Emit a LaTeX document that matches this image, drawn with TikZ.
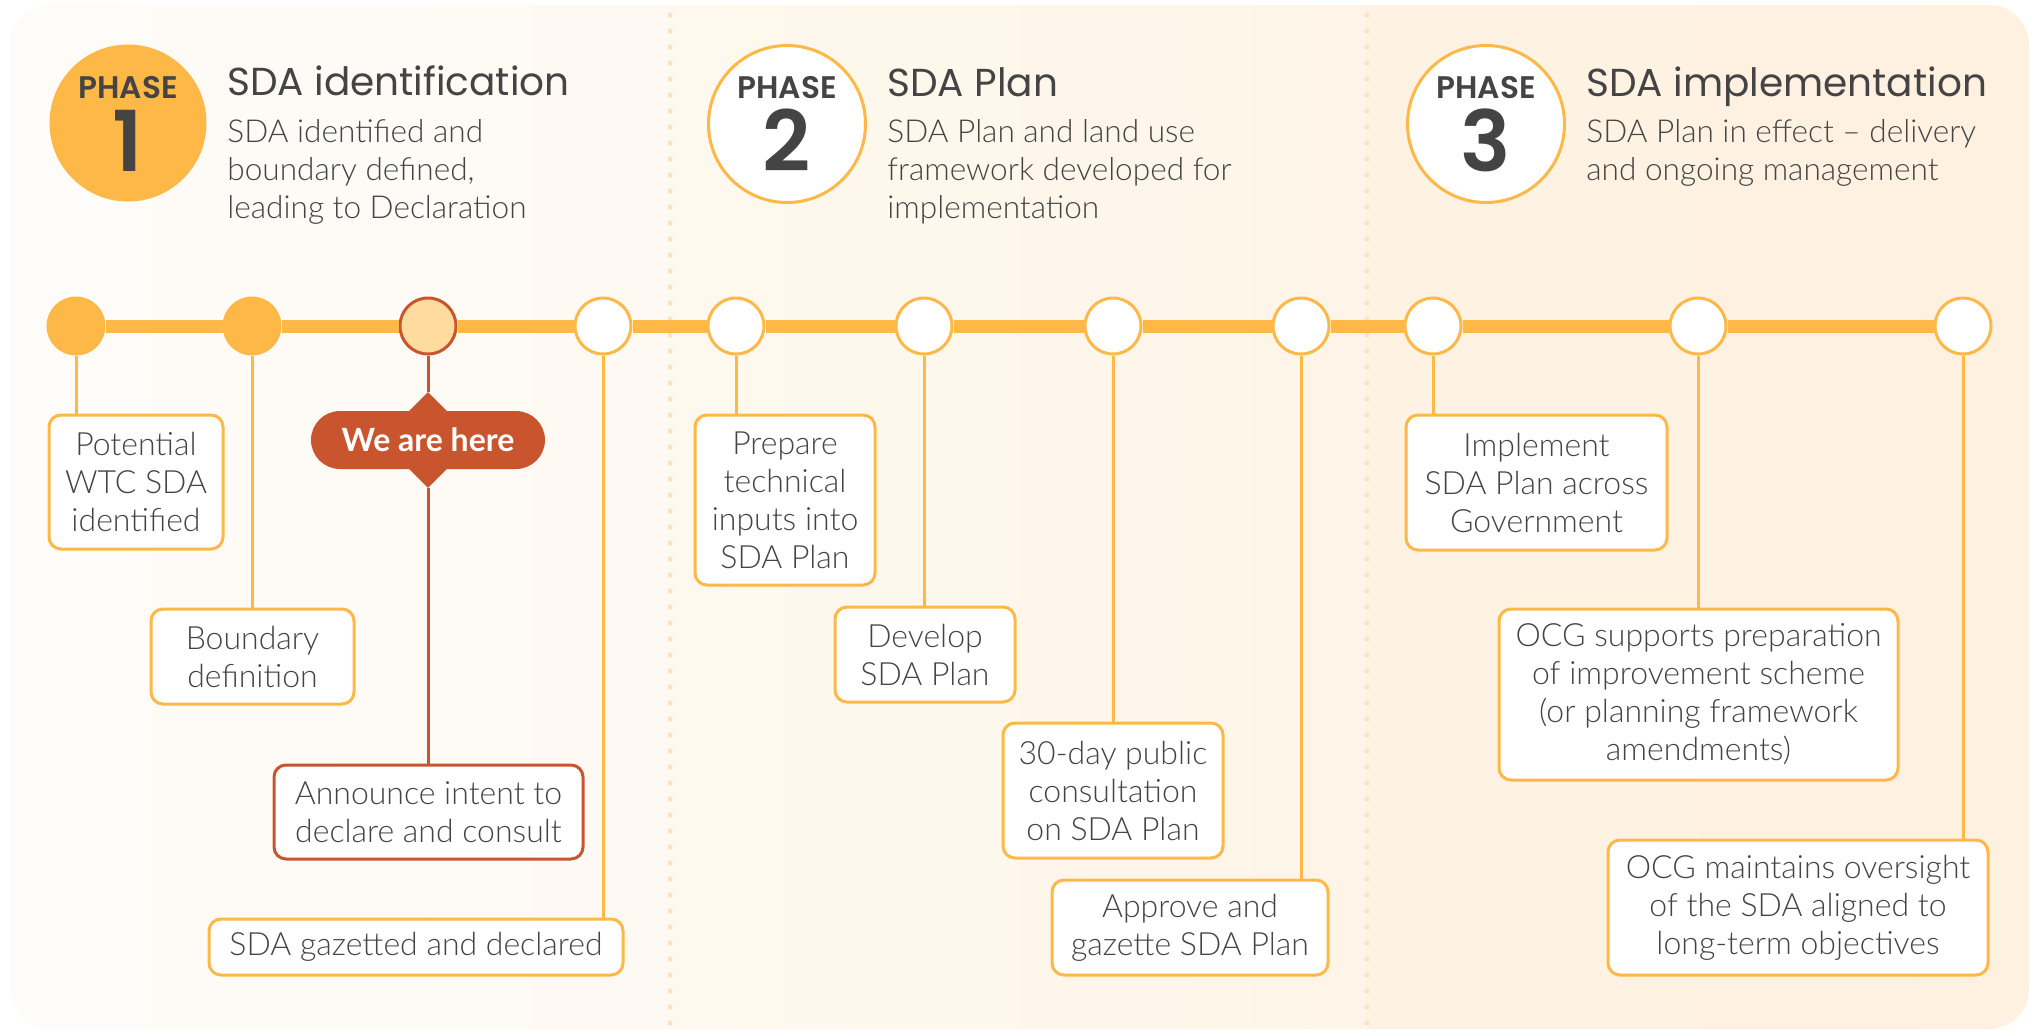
\documentclass[tikz,border=0pt]{standalone}
\usepackage{fontspec}
\usepackage{xcolor}
\usetikzlibrary{shapes.geometric,shapes.misc}
\setmainfont{Lato Light}
\newfontfamily\headfont{Poppins}
\newfontfamily\phasefont{Poppins SemiBold}
\newfontfamily\tagfont{Lato Bold}
\definecolor{amber}{HTML}{FDB848}
\definecolor{rust}{HTML}{C9552F}
\definecolor{ink}{HTML}{444444}
\definecolor{peach}{HTML}{FFDBA0}
\definecolor{dotc}{HTML}{FCE3C0}
\definecolor{creama}{HTML}{FEFCF9}
\definecolor{creamb}{HTML}{FEF9F2}
\definecolor{creamc}{HTML}{FEF8EE}
\definecolor{creamd}{HTML}{FEF5E8}
\definecolor{creame}{HTML}{FEF2E3}
\definecolor{creamf}{HTML}{FEF1E0}
\begin{document}
\begin{tikzpicture}[x=0.5pt,y=-0.5pt,
	track/.style={amber,line width=6.5pt},
	stop/.style={circle,draw=amber,line width=1.5pt,fill=white,minimum size=28pt,inner sep=0pt},
	done/.style={stop,fill=amber},
	now/.style={stop,draw=rust,fill=peach},
	stem/.style={amber,line width=1.5pt},
	card/.style={draw=amber,line width=1.5pt,fill=white,rounded corners=6pt,align=center,inner sep=0pt,text=ink,font=\fontsize{16}{19}\selectfont},
	phase/.style={circle,minimum size=78.5pt,inner sep=0pt,line width=1.5pt},
	phasetag/.style={anchor=base,text=ink,font=\phasefont\fontsize{15.6}{18}\selectfont},
	phasenum/.style={anchor=base,text=ink,font=\phasefont\fontsize{42}{48}\selectfont},
	head/.style={anchor=base west,inner sep=0pt,text=ink,font=\headfont\fontsize{19.5}{24}\selectfont},
	sub/.style={anchor=base west,inner sep=0pt,align=left,text=ink,font=\fontsize{15.8}{19}\selectfont}]
	\useasboundingbox (0,0) rectangle (2035,1030);
	\fill[white] (0,0) rectangle (2035,1030);
	\begin{scope}
		\clip[rounded corners=20pt] (10,5) rectangle (2029,1029);
		\shade[left color=creama,right color=creamb] (10,5) rectangle (670,1029);
		\shade[left color=creamc,right color=creamd] (670,5) rectangle (1367,1029);
		\shade[left color=creame,right color=creamf] (1367,5) rectangle (2029,1029);
	\end{scope}
	\foreach \x in {670,1367}
		\foreach \y in {15,31,...,1025}
			\fill[dotc] (\x,\y) circle (1.25pt);

	\node[phase,fill=amber] (p1) at (128,123) {};
	\node[phase,draw=amber,fill=white] (p2) at (787,124) {};
	\node[phase,draw=amber,fill=white] (p3) at (1486,124) {};
	\foreach \n/\x in {1/128,2/787,3/1486} {
		\node[phasetag] at (\x,98) {PHASE};
		\node[phasenum] at (\x,171) {\n};
	}

	\node[head] (h1) at (227,95) {SDA identification};
	\node[sub] (s1) at (227,218) {SDA identified and\\boundary defined,\\leading to Declaration};
	\node[head] (h2) at (887,96) {SDA Plan};
	\node[sub] (s2) at (887,218) {SDA Plan and land use\\framework developed for\\implementation};
	\node[head] (h3) at (1586,96) {SDA implementation};
	\node[sub] (s3) at (1586,180) {SDA Plan in effect – delivery\\and ongoing management};

	\node[done] (t1) at (76,326) {};
	\node[done] (t2) at (252,326) {};
	\node[now] (t3) at (428,326) {};
	\node[stop] (t4) at (603,326) {};
	\node[stop] (t5) at (736,326) {};
	\node[stop] (t6) at (924,326) {};
	\node[stop] (t7) at (1113,326) {};
	\node[stop] (t8) at (1301,326) {};
	\node[stop] (t9) at (1433,326) {};
	\node[stop] (t10) at (1698,326) {};
	\node[stop] (t11) at (1963,326) {};
	\foreach \a/\b in {t1/t2,t2/t3,t3/t4,t4/t5,t5/t6,t6/t7,t7/t8,t8/t9,t9/t10,t10/t11}
		\draw[track] (\a) -- (\b);

	\node[card,minimum width=87pt,minimum height=67pt] (pot) at (136,482) {Potential\\WTC SDA\\identified};
	\node[card,minimum width=101.5pt,minimum height=47.5pt] (bnd) at (252.5,656.5) {Boundary\\definition};
	\node[card,draw=rust,minimum width=154.5pt,minimum height=47pt] (ann) at (428.5,812) {Announce intent to\\declare and consult};
	\node[card,minimum width=207pt,minimum height=28pt] (gaz) at (416,947) {SDA gazetted and declared};
	\node[card,minimum width=90pt,minimum height=85pt] (prep) at (785,500) {Prepare\\technical\\inputs into\\SDA Plan};
	\node[card,minimum width=90pt,minimum height=47.5pt] (dev) at (925,654.5) {Develop\\SDA Plan};
	\node[card,minimum width=110pt,minimum height=67.5pt] (cons) at (1113,790.5) {30-day public\\consultation\\on SDA Plan};
	\node[card,minimum width=138pt,minimum height=47.5pt] (appr) at (1190,927.5) {Approve and\\gazette SDA Plan};
	\node[card,minimum width=130.5pt,minimum height=67.5pt] (impl) at (1536.5,482.5) {Implement\\SDA Plan across\\Government};
	\node[card,minimum width=199.5pt,minimum height=85.5pt] (supp) at (1698.5,694.5) {OCG supports preparation\\of improvement scheme\\(or planning framework\\amendments)};
	\node[card,minimum width=190pt,minimum height=67.5pt] (over) at (1798,907.5) {OCG maintains oversight\\of the SDA aligned to\\long-term objectives};

	\foreach \s/\c in {t1/pot,t2/bnd,t4/gaz,t5/prep,t6/dev,t7/cons,t8/appr,t9/impl,t10/supp,t11/over}
		\draw[stem] (\s) -- (\s |- \c.north);

	\node[diamond,fill=rust,minimum width=48pt,minimum height=48pt,inner sep=0pt] (pin) at (428,440) {};
	\node[rounded rectangle,fill=rust,minimum width=117pt,minimum height=29pt,inner sep=0pt,text=white,font=\tagfont\fontsize{16}{19}\selectfont] (here) at (428,440) {We are here};
	\draw[stem,rust] (t3) -- (pin);
	\draw[stem,rust] (pin.south) -- (pin.south |- ann.north);
\end{tikzpicture}
\end{document}
